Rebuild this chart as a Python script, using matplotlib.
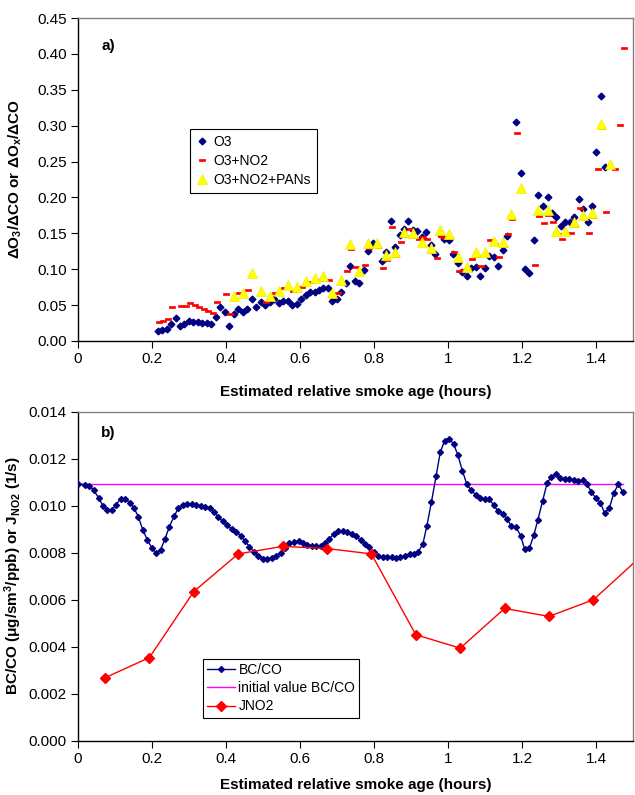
import matplotlib
matplotlib.use("Agg")
import matplotlib.pyplot as plt
from matplotlib.ticker import FormatStrFormatter, FixedLocator

plt.rcParams['font.family'] = ['Liberation Sans', 'DejaVu Sans']
plt.rcParams['mathtext.fontset'] = 'custom'
plt.rcParams['mathtext.rm'] = 'Liberation Sans'
plt.rcParams['mathtext.bf'] = 'Liberation Sans:bold'
plt.rcParams['mathtext.it'] = 'Liberation Sans:italic'

# ---------------- panel a) : enhancement ratios vs smoke age ----------------
o3_x = [0.215, 0.228, 0.240, 0.251, 0.264, 0.276, 0.287, 0.300, 0.312, 0.324,
        0.336, 0.349, 0.360, 0.373, 0.385, 0.396, 0.409, 0.421, 0.433, 0.445,
        0.458, 0.469, 0.482, 0.494, 0.506, 0.518, 0.531, 0.542, 0.554, 0.567,
        0.578, 0.591, 0.603, 0.615, 0.627, 0.640, 0.651, 0.663, 0.676, 0.687,
        0.699, 0.712, 0.723, 0.736, 0.748, 0.760, 0.772, 0.784, 0.796, 0.821,
        0.833, 0.845, 0.857, 0.869, 0.881, 0.893, 0.905, 0.917, 0.930, 0.941,
        0.953, 0.966, 0.978, 0.990, 1.003, 1.014, 1.027, 1.039, 1.050, 1.063,
        1.075, 1.087, 1.099, 1.112, 1.123, 1.135, 1.148, 1.160, 1.184, 1.196,
        1.208, 1.220, 1.232, 1.244, 1.256, 1.269, 1.280, 1.293, 1.305, 1.316,
        1.329, 1.341, 1.353, 1.365, 1.378, 1.389, 1.401, 1.414, 1.425]
o3_y = [0.0139, 0.0153, 0.0167, 0.0237, 0.0325, 0.0214, 0.0237, 0.0274, 0.0265, 0.0265,
        0.0255, 0.0246, 0.0237, 0.0334, 0.0474, 0.0399, 0.0204, 0.0376, 0.0441, 0.0409,
        0.0446, 0.0580, 0.0469, 0.0539, 0.0497, 0.0539, 0.0585, 0.0525, 0.0562, 0.0553,
        0.0497, 0.0511, 0.0590, 0.0640, 0.0678, 0.0678, 0.0711, 0.0738, 0.0738, 0.0562,
        0.0590, 0.0683, 0.0808, 0.1045, 0.0840, 0.0813, 0.0985, 0.1254, 0.1361, 0.1115,
        0.1245, 0.1667, 0.1310, 0.1477, 0.1565, 0.1672, 0.1551, 0.1528, 0.1453, 0.1523,
        0.1337, 0.1217, 0.1495, 0.1421, 0.1407, 0.1217, 0.1091, 0.0961, 0.0906, 0.1012,
        0.1031, 0.0901, 0.1017, 0.1189, 0.1166, 0.1049, 0.1268, 0.1467, 0.3046, 0.2336,
        0.1003, 0.0947, 0.1412, 0.2038, 0.1881, 0.2006, 0.1779, 0.1732, 0.1607, 0.1653,
        0.1653, 0.1732, 0.1978, 0.1834, 0.1658, 0.1885, 0.2633, 0.3418, 0.2419]

nox_x = [0.219, 0.231, 0.242, 0.255, 0.278, 0.291, 0.303, 0.315, 0.327, 0.340,
         0.351, 0.364, 0.376, 0.400, 0.412, 0.436, 0.460, 0.508, 0.532, 0.557,
         0.581, 0.605, 0.630, 0.654, 0.678, 0.703, 0.727, 0.739, 0.751, 0.776,
         0.787, 0.812, 0.824, 0.836, 0.848, 0.860, 0.872, 0.885, 0.896, 0.908,
         0.921, 0.932, 0.944, 0.957, 0.969, 0.981, 0.993, 1.005, 1.016, 1.029,
         1.041, 1.053, 1.065, 1.078, 1.089, 1.102, 1.114, 1.126, 1.138, 1.151,
         1.162, 1.174, 1.187, 1.198, 1.234, 1.247, 1.259, 1.271, 1.283, 1.296,
         1.307, 1.319, 1.332, 1.343, 1.356, 1.368, 1.380, 1.392, 1.405, 1.416,
         1.428, 1.452, 1.464, 1.476]
nox_y = [0.0269, 0.0283, 0.0302, 0.0474, 0.0488, 0.0488, 0.0534, 0.0502, 0.0469, 0.0441,
         0.0418, 0.0395, 0.0543, 0.0659, 0.0372, 0.0673, 0.0711, 0.0548, 0.0664, 0.0743,
         0.0701, 0.0757, 0.0822, 0.0845, 0.0850, 0.0669, 0.0980, 0.1282, 0.1031, 0.1059,
         0.1300, 0.1305, 0.1012, 0.1130, 0.1590, 0.1190, 0.1384, 0.1467, 0.1560, 0.1453,
         0.1421, 0.1453, 0.1417, 0.1245, 0.1156, 0.1463, 0.1435, 0.1430, 0.1240, 0.0975,
         0.0985, 0.1021, 0.1147, 0.1184, 0.1045, 0.1207, 0.1407, 0.1351, 0.1175, 0.1323,
         0.1491, 0.1695, 0.2902, 0.2085, 0.1059, 0.1746, 0.1640, 0.1755, 0.1662, 0.1490,
         0.1426, 0.1495, 0.1505, 0.1607, 0.1857, 0.1695, 0.1500, 0.1723, 0.2392, 0.2967,
         0.1802, 0.2401, 0.3009, 0.4080]

pan_x = [0.421, 0.445, 0.469, 0.494, 0.518, 0.542, 0.567, 0.591, 0.615, 0.640,
         0.663, 0.687, 0.712, 0.736, 0.760, 0.784, 0.808, 0.833, 0.857, 0.881,
         0.905, 0.930, 0.953, 0.978, 1.003, 1.027, 1.050, 1.075, 1.099, 1.123,
         1.148, 1.171, 1.196, 1.244, 1.269, 1.293, 1.316, 1.341, 1.365, 1.389,
         1.414, 1.438]
pan_y = [0.0627, 0.0673, 0.0947, 0.0697, 0.0627, 0.0701, 0.0780, 0.0757, 0.0831, 0.0882,
         0.0906, 0.0664, 0.0854, 0.1356, 0.0975, 0.1365, 0.1365, 0.1203, 0.1245, 0.1523,
         0.1509, 0.1384, 0.1291, 0.1546, 0.1495, 0.1166, 0.1031, 0.1240, 0.1240, 0.1393,
         0.1384, 0.1765, 0.2127, 0.1825, 0.1825, 0.1537, 0.1537, 0.1662, 0.1760, 0.1779,
         0.3028, 0.2466]

# ---------------- panel b) : BC/CO and photolysis rate ----------------
bc_x = [0.000, 0.018, 0.031, 0.042, 0.056, 0.067, 0.079, 0.092, 0.103, 0.115,
        0.127, 0.140, 0.151, 0.163, 0.175, 0.187, 0.199, 0.211, 0.223, 0.235,
        0.247, 0.260, 0.271, 0.283, 0.295, 0.307, 0.319, 0.332, 0.343, 0.356,
        0.368, 0.379, 0.391, 0.403, 0.415, 0.427, 0.440, 0.451, 0.463, 0.476,
        0.487, 0.499, 0.512, 0.523, 0.535, 0.548, 0.560, 0.571, 0.584, 0.596,
        0.607, 0.620, 0.632, 0.643, 0.656, 0.668, 0.679, 0.692, 0.704, 0.715,
        0.728, 0.740, 0.751, 0.764, 0.776, 0.787, 0.799, 0.812, 0.823, 0.835,
        0.848, 0.860, 0.871, 0.883, 0.896, 0.907, 0.919, 0.932, 0.943, 0.955,
        0.968, 0.979, 0.991, 1.003, 1.015, 1.027, 1.039, 1.051, 1.063, 1.075,
        1.087, 1.099, 1.112, 1.123, 1.135, 1.148, 1.160, 1.171, 1.184, 1.196,
        1.207, 1.220, 1.232, 1.243, 1.256, 1.268, 1.279, 1.292, 1.304, 1.315,
        1.328, 1.340, 1.351, 1.364, 1.376, 1.387, 1.400, 1.412, 1.423, 1.436,
        1.448, 1.460, 1.472]
bc_y = [0.01092, 0.01089, 0.01083, 0.01066, 0.01032, 0.00999, 0.00981, 0.00981, 0.01004, 0.01029,
        0.01029, 0.01012, 0.00991, 0.00952, 0.00897, 0.00855, 0.00821, 0.00798, 0.00811, 0.00857,
        0.00910, 0.00955, 0.00988, 0.01001, 0.01005, 0.01008, 0.01004, 0.00998, 0.00995, 0.00991,
        0.00974, 0.00952, 0.00934, 0.00916, 0.00900, 0.00887, 0.00872, 0.00849, 0.00825, 0.00803,
        0.00785, 0.00774, 0.00774, 0.00777, 0.00787, 0.00799, 0.00821, 0.00839, 0.00846, 0.00848,
        0.00842, 0.00831, 0.00829, 0.00829, 0.00829, 0.00839, 0.00859, 0.00879, 0.00891, 0.00893,
        0.00889, 0.00880, 0.00869, 0.00852, 0.00836, 0.00825, 0.00801, 0.00785, 0.00781, 0.00781,
        0.00779, 0.00775, 0.00781, 0.00785, 0.00795, 0.00795, 0.00801, 0.00836, 0.00914, 0.01013,
        0.01127, 0.01226, 0.01276, 0.01283, 0.01263, 0.01213, 0.01147, 0.01090, 0.01065, 0.01045,
        0.01030, 0.01028, 0.01028, 0.01002, 0.00977, 0.00964, 0.00941, 0.00913, 0.00907, 0.00872,
        0.00815, 0.00818, 0.00874, 0.00940, 0.01021, 0.01097, 0.01120, 0.01133, 0.01118, 0.01113,
        0.01111, 0.01109, 0.01104, 0.01107, 0.01090, 0.01059, 0.01030, 0.01011, 0.00969, 0.00988,
        0.01052, 0.01090, 0.01059]
bc_initial = 0.0109

jno2_x = [0.073, 0.193, 0.313, 0.433, 0.553, 0.673, 0.793, 0.913, 1.033, 1.153,
          1.273, 1.393, 1.513]
jno2_y = [0.00267, 0.00353, 0.00634, 0.00794, 0.00826, 0.00817, 0.00794, 0.00450, 0.00393, 0.00562,
          0.00528, 0.00599, 0.00771]

x_ticks = [0, 0.2, 0.4, 0.6, 0.8, 1.0, 1.2, 1.4]
x_tick_labels = ['0', '0.2', '0.4', '0.6', '0.8', '1', '1.2', '1.4']

NAVY = '#000080'
RED = '#FF0000'
YELLOW = '#FFFF00'
MAGENTA = '#FF00FF'

TICK_FS = 11
LABEL_FS = 11
LEGEND_FS = 10

dash = [(-1, -0.3), (1, -0.3), (1, 0.3), (-1, 0.3), (-1, -0.3)]

fig = plt.figure(figsize=(6.35, 7.95), dpi=100)
W, H = 635, 795


def box(left, top, right, bottom):
    return [left / W, 1 - bottom / H, (right - left) / W, (bottom - top) / H]


def style_axes(ax):
    for side in ('top', 'right'):
        ax.spines[side].set_color('#808080')
        ax.spines[side].set_linewidth(1.0)
    for side in ('left', 'bottom'):
        ax.spines[side].set_color('black')
        ax.spines[side].set_linewidth(1.0)
    ax.tick_params(direction='out', length=5, width=0.8, labelsize=TICK_FS,
                   colors='black', pad=3)
    ax.set_xlim(0, 1.5)
    ax.xaxis.set_major_locator(FixedLocator(x_ticks))
    ax.set_xticklabels(x_tick_labels)


# panel a
ax1 = fig.add_axes(box(78, 18, 633, 341))
style_axes(ax1)
ax1.plot(o3_x, o3_y, ls='none', marker='D', ms=3.4, color=NAVY, mec=NAVY,
         label='O3', zorder=3)
ax1.plot(nox_x, nox_y, ls='none', marker=dash, ms=4.0, color=RED, mec=RED,
         mew=0.5, label='O3+NO2', zorder=4)
ax1.plot(pan_x, pan_y, ls='none', marker='^', ms=7.5, color=YELLOW, mec='#EEEE00',
         mew=0.5, label='O3+NO2+PANs', zorder=5)
ax1.set_ylim(0, 0.45)
ax1.set_yticks([0.00, 0.05, 0.10, 0.15, 0.20, 0.25, 0.30, 0.35, 0.40, 0.45])
ax1.yaxis.set_major_formatter(FormatStrFormatter('%.2f'))
ax1.set_xlabel('Estimated relative smoke age (hours)', fontsize=LABEL_FS, fontweight='bold')
ax1.xaxis.set_label_coords(0.5, -0.137)
ax1.set_ylabel(r'$\mathbf{\Delta O_3/\Delta CO\ or\ \Delta O_x/\Delta CO}$', fontsize=LABEL_FS)
ax1.yaxis.set_label_coords(-0.098, 0.5)
ax1.text(0.042, 0.913, 'a)', transform=ax1.transAxes, fontsize=LABEL_FS,
         fontweight='bold', va='center', ha='left')
leg1 = ax1.legend(loc='upper left', bbox_to_anchor=((190 - 78) / 555, (341 - 129) / 323),
                  borderaxespad=0, fontsize=LEGEND_FS, frameon=True, fancybox=False,
                  edgecolor='black', framealpha=1, handlelength=0.8,
                  handletextpad=0.4, labelspacing=0.35, borderpad=0.45)
leg1.get_frame().set_linewidth(0.8)

# panel b
ax2 = fig.add_axes(box(78, 411.5, 633, 740.5))
style_axes(ax2)
l_init, = ax2.plot([bc_x[0], bc_x[-1]], [bc_initial, bc_initial], color=MAGENTA,
                   lw=1.0, label='initial value BC/CO', zorder=2)
l_bc, = ax2.plot(bc_x, bc_y, color=NAVY, lw=1.0, marker='D', ms=3.0, mec=NAVY,
                 label='BC/CO', zorder=3)
l_j, = ax2.plot(jno2_x, jno2_y, color=RED, lw=1.0, marker='D', ms=5.5, mec=RED,
                markevery=list(range(len(jno2_x) - 1)), label='JNO2', zorder=4)
ax2.set_ylim(0, 0.014)
ax2.set_yticks([0.000, 0.002, 0.004, 0.006, 0.008, 0.010, 0.012, 0.014])
ax2.yaxis.set_major_formatter(FormatStrFormatter('%.3f'))
ax2.set_xlabel('Estimated relative smoke age (hours)', fontsize=LABEL_FS, fontweight='bold')
ax2.xaxis.set_label_coords(0.5, -0.113)
ax2.set_ylabel(r'$\mathbf{BC/CO\ (\mu g/sm^3/ppb)\ or\ J_{NO2}\ (1/s)}$', fontsize=LABEL_FS)
ax2.yaxis.set_label_coords(-0.098, 0.5)
ax2.text(0.042, 0.935, 'b)', transform=ax2.transAxes, fontsize=LABEL_FS,
         fontweight='bold', va='center', ha='left')
leg2 = ax2.legend(handles=[l_bc, l_init, l_j], loc='upper left',
                  bbox_to_anchor=((203 - 78) / 555, (740.5 - 659) / 329),
                  borderaxespad=0, fontsize=LEGEND_FS, frameon=True, fancybox=False,
                  edgecolor='black', framealpha=1, handlelength=2.0,
                  handletextpad=0.25, labelspacing=0.3, borderpad=0.3)
leg2.get_frame().set_linewidth(0.8)

fig.savefig('out.png', dpi=100)
